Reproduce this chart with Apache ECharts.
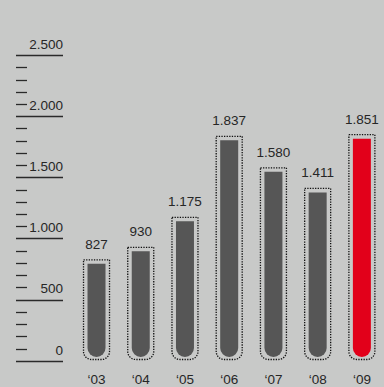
<!DOCTYPE html>
<html>
<head>
<meta charset="utf-8">
<script src="https://cdn.jsdelivr.net/npm/echarts@6/dist/echarts.min.js"></script>
<style>
  html, body { margin: 0; padding: 0; background: #c8c9c8; }
  #chart { width: 384px; height: 387px; }
</style>
</head>
<body>
<div id="chart"></div>
<script>
// Yearly totals, '03 to '09; the last year is highlighted in red.
const years = ['‘03', '‘04', '‘05', '‘06', '‘07', '‘08', '‘09'];
const values = [827, 930, 1175, 1837, 1580, 1411, 1851];
const highlightIndex = 6;

// Value scale: major steps every 500, minor ticks every 100.
const yMin = 0;
const yMax = 2500;
const yStep = 500;

const FONT = '"Liberation Sans", Arial, sans-serif';
const FONT_SIZE = 13.5;
const TEXT = '#262626';
const INK = '#2a2a2a';

// 1837 -> "1.837"
function fmt(n) {
  return String(n).replace(/\B(?=(\d{3})+(?!\d))/g, '.');
}

// Each year is drawn as a test-tube: a dotted outline reaching the value,
// with a solid, round-bottomed column inset inside it.
function renderTube(params, api) {
  const i = api.value(0);
  const v = api.value(1);
  const top = api.coord([i, v]);
  const base = api.coord([i, 0]);
  const cx = top[0];
  const ow = 26, fw = 18, inset = 4;
  const outlineBottom = base[1] - 1.5;
  return {
    type: 'group',
    children: [
      {
        type: 'rect',
        shape: { x: cx - ow / 2, y: top[1], width: ow, height: outlineBottom - top[1], r: [0, 0, 8, 8] },
        style: { fill: 'none', stroke: '#111111', lineWidth: 1.3, lineDash: [1.3, 1.3] }
      },
      {
        type: 'rect',
        shape: { x: cx - fw / 2, y: top[1] + inset, width: fw, height: (base[1] - inset) - (top[1] + inset), r: [0, 0, fw / 2, fw / 2] },
        style: { fill: i === highlightIndex ? '#e2001a' : '#565656' }
      },
      {
        type: 'text',
        x: cx,
        y: top[1] - 8.5,
        style: { text: fmt(v), align: 'center', verticalAlign: 'bottom', font: FONT_SIZE + 'px ' + FONT, fill: TEXT }
      }
    ]
  };
}

const chart = echarts.init(document.getElementById('chart'), null, { renderer: 'svg' });
chart.setOption({
  backgroundColor: '#c8c9c8',
  animation: false,
  grid: { left: 74.4, top: 55.3, bottom: 26, width: 312.2 },
  xAxis: {
    type: 'category',
    data: years,
    axisLine: { show: false },
    axisTick: { show: false },
    axisLabel: { margin: 11, fontSize: FONT_SIZE, fontFamily: FONT, color: TEXT }
  },
  yAxis: {
    type: 'value',
    min: yMin,
    max: yMax,
    interval: yStep,
    offset: 58.4,
    axisLine: { show: false },
    splitLine: { show: false },
    axisTick: { show: true, inside: true, length: 47, lineStyle: { color: INK, width: 1.3 } },
    minorTick: { show: true, splitNumber: 5, length: 11, lineStyle: { color: INK, width: 1.3 } },
    axisLabel: {
      inside: true, margin: 47, align: 'right', verticalAlign: 'bottom',
      padding: [0, 0, 4, 0],
      fontSize: FONT_SIZE, fontFamily: FONT, color: TEXT,
      formatter: v => fmt(v)
    }
  },
  series: [{
    type: 'custom',
    renderItem: renderTube,
    data: values.map((v, i) => [i, v]),
    encode: { x: 0, y: 1 }
  }]
});
</script>
</body>
</html>
